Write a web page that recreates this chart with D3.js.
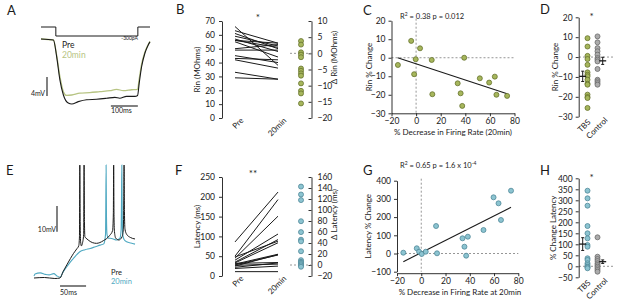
<!DOCTYPE html>
<html>
<head>
<meta charset="utf-8">
<script src="https://cdn.jsdelivr.net/npm/d3@7"></script>
<style>
  body { margin: 0; background: #fff; }
  text { font-family: Lato, "Open Sans", sans-serif; }
</style>
</head>
<body>
<div id="fig"></div>
<script>
// ---------- data ----------

// A: hyperpolarising step, traces as [ms, mV from baseline]
const aStepT = [0, 55, 55, 359, 359, 404];
const aStepI = [0, 0, -300, -300, 0, 0];
const aPre = [[0,0],[46,-0.2],[58,-3.7],[70,-8.6],[83,-11.8],[101,-13.5],[114,-13.7],[138,-13.2],[169,-12.8],[206,-12.7],[243,-12.5],[274,-12.3],[292,-12.5],[317,-12.1],[348,-12.1],[358,-11.9],[364,-9.3],[373,-5.8],[385,-3],[397,-1.3],[404,-0.6]];
const aPost = [[0,0],[46,-0.2],[58,-3.4],[70,-7.9],[83,-11.1],[95,-11.9],[114,-11.8],[144,-11.4],[181,-11.3],[218,-11.1],[256,-10.9],[280,-10.6],[305,-10.9],[336,-10.7],[358,-10.6],[364,-8.4],[373,-5.3],[385,-2.8],[404,-0.5]];

// B: input resistance (MOhms)
const rinPre  = [66, 63, 61, 59, 57, 56, 56, 55, 50, 49, 45, 43, 42, 33, 29];
const rinPost = [38, 54, 50, 52, 48, 54, 51, 44, 53, 49, 40, 42, 36, 28, 28];
const rinDelta = [3.8, 2.7, 0.3, -0.4, -1.2, -4.7, -5.4, -6.2, -6.9, -9.3, -11.6, -12.4, -15.5];

// C: Rin % change vs % decrease in firing rate
const cFiring = [-14.8, -4, 3.2, -0.3, -1.6, 12.7, 13.2, 39.1, 33.8, 36.2, 37.5, 51.8, 59.4, 64, 65.3, 74];
const cRin    = [-3.9, 9.1, 5.1, -0.8, -8.9, -1.2, -19.7, 0, -13.8, -19.2, -26, -11.1, -13.4, -10.2, -20, -20.6];
const cFitX = [-15, 74];
const cFitY = [0, -19.4];

// D: Rin % change, TBS vs control
const groups = ["TBS", "Control"];
const dTBS  = [9.5, 5.3, 0.6, -1.0, -3.9, -7.7, -8.9, -9.7, -11.4, -13.4, -13.9, -18.9, -20.1, -20.6, -25.6];
const dCtrl = [10.4, 7.4, 4.5, 2.9, 1.2, -0.5, -1.3, -2.2, -6.0, -11.4, -12.2, -13.1, -13.9];
const dMean = [-9.7, -1.9];
const dSem  = [2.6, 1.8];

// E: spike traces, [ms, mV from baseline]
const ePre = [[0,0],[20,0.2],[40,-0.2],[50,0],[56,2.5],[63,5.1],[70,7.6],[76,9.6],[82,11.3],[86,12.6],[87.3,16],[88,44],[88.7,22],[89.6,14],[91,12.5],[93,13.5],[95.4,17],[96.2,44],[96.9,22],[97.8,16],[100,15.5],[104,14.8],[112,13.8],[120,13.5],[133,14.5],[145,16.5],[151,18.5],[152.4,25],[153,44],[153.7,24],[154.6,18],[157,15.5],[163,14.8],[169,16],[171.6,19],[172.4,30],[173,44],[173.7,26],[174.8,19],[178,17],[185,15.8],[194,15.2]];
const ePost = [[0,0.8],[2,1.6],[12,2],[22,1.4],[29,1.2],[38,1.7],[44,0.8],[50,0.3],[56,2.4],[63,4.4],[70,6.3],[76,7.7],[88,10.2],[98,11],[108,11.5],[118,12.2],[127,12.8],[134,13.3],[137.4,17],[138.5,44],[139.2,24],[140.2,17],[143,15.5],[149,15.4],[159,14.8],[165,15.5],[167.4,19],[168,28],[168.7,44],[169.4,24],[170.4,17],[173,15],[178,14.1],[186,13.6],[194,13.2]];

// F: first spike latency (ms)
const latPre  = [86, 50, 45, 40, 35, 48, 33, 30, 28, 25, 32, 27, 22, 19, 11];
const latPost = [212, 193, 151, 106, 92, 88, 84, 55, 53, 54, 34, 30, 33, 25, 11];
const latDelta = [142.6, 128.2, 118, 79.6, 59.8, 46, 43, 25, 8.8, 5.8, 4, 1.6, -0.7, -3.2];

// G: latency % change vs % decrease in firing rate
const gFiring  = [-14.8, -3.7, -1.8, 0.4, 3.7, 12.2, 13, 34, 38.4, 35.6, 37, 51.3, 59.6, 63.7, 74, 65.7];
const gLatency = [4.4, 28.6, 9.9, -2.7, 9.9, 151, 1.1, 83.5, 92.3, 37.4, -12, 129, 308.8, 275.8, 345, 184];
const gFitX = [-14.8, 74];
const gFitY = [-45, 254];

// H: % change latency, TBS vs control
const hTBS  = [343.6, 309, 275.5, 183, 150, 127, 96.8, 89, 36.4, 28.6, 13.6, 5.9, -1.5, -4.5, -9];
const hCtrl = [131.8, 43.6, 33, 24, 13.6, 5.9, -1.5, -9, -16.8, -24.5];
const hMean = [101, 21];
const hSem  = [29, 8];

// ---------- styling ----------
const INK = "#1a1a1a";
const GREEN = "#a6b65c", GREEN_DK = "#66722c", GREEN_TXT = "#b7c483";
const BLUE = "#8cc4d1", BLUE_DK = "#4f8898", BLUE_TXT = "#4fa9c2";
const GREY = "#ababab", GREY_DK = "#6b6b6b";
const TICK_FONT = 8.5;

const svg = d3.select("#fig").append("svg")
  .attr("width", 617)
  .attr("height", 304);

function styleAxis(g) {
  g.selectAll("path, line").attr("stroke", INK).attr("stroke-width", 0.9);
  g.selectAll("text").style("font-size", TICK_FONT + "px").attr("fill", INK);
}

function label(x, y, txt, opts = {}) {
  const t = svg.append("text")
    .attr("x", x).attr("y", y)
    .attr("text-anchor", opts.anchor || "start")
    .style("font-size", (opts.size || 8) + "px")
    .attr("fill", opts.color || INK)
    .text(txt);
  if (opts.rotate) t.attr("transform", `rotate(${opts.rotate},${x},${y})`);
  return t;
}

function dashed(x1, y1, x2, y2) {
  svg.append("line")
    .attr("x1", x1).attr("y1", y1).attr("x2", x2).attr("y2", y2)
    .attr("stroke", "#8a8a8a").attr("stroke-width", 0.9)
    .attr("stroke-dasharray", "2,2");
}

function dots(xs, ys, fill, stroke) {
  svg.append("g").selectAll("circle")
    .data(ys)
    .enter()
    .append("circle")
    .attr("cx", (d, i) => (typeof xs === "function" ? xs(d, i) : xs))
    .attr("cy", d => d)
    .attr("r", 2.5)
    .attr("fill", fill)
    .attr("stroke", stroke)
    .attr("stroke-width", 0.8);
}

// panel letters
[["A", 7, 15], ["B", 176, 14], ["C", 363, 15], ["D", 540, 14],
 ["E", 6, 175], ["F", 175, 175], ["G", 363, 175], ["H", 540, 175]]
  .forEach(([l, x, y]) => label(x, y, l, { size: 13 }));

// ---------- A: voltage traces ----------
const aX = d3.scaleLinear().domain([0, 404]).range([41, 150]);
const aY = d3.scaleLinear().domain([-13.7, 0]).range([104, 39]);
const aI = d3.scaleLinear().domain([-300, 0]).range([36, 27]);

svg.append("path")
  .datum(aStepI)
  .attr("d", d3.line().x((d, i) => aX(aStepT[i])).y(d => aI(d)))
  .attr("fill", "none").attr("stroke", INK).attr("stroke-width", 1);

const aLine = d3.line().x(d => aX(d[0])).y(d => aY(d[1])).curve(d3.curveMonotoneX);
svg.append("path").datum(aPost).attr("d", aLine)
  .attr("fill", "none").attr("stroke", GREEN_TXT).attr("stroke-width", 1.3);
svg.append("path").datum(aPre).attr("d", aLine)
  .attr("fill", "none").attr("stroke", INK).attr("stroke-width", 1.1);

label(138, 40, "-300pA", { size: 5, anchor: "end" });
label(62, 48, "Pre", { size: 8.5 });
label(62, 58, "20min", { size: 8.5, color: GREEN_TXT });

// scale bars
svg.append("line").attr("x1", 47).attr("x2", 47).attr("y1", aY(-8)).attr("y2", aY(-12))
  .attr("stroke", INK).attr("stroke-width", 1.1);
label(45, 96, "4mV", { size: 7, anchor: "end" });
svg.append("line").attr("x1", aX(259)).attr("x2", aX(359)).attr("y1", 106).attr("y2", 106)
  .attr("stroke", INK).attr("stroke-width", 1.1);
label(aX(259), 113, "100ms", { size: 7 });

// ---------- E: spike traces ----------
const eX = d3.scaleLinear().domain([0, 194]).range([34, 135]);
const eY = d3.scaleLinear().domain([0, 44]).range([278, 165]);
const eLine = d3.line().x(d => eX(d[0])).y(d => eY(d[1])).curve(d3.curveMonotoneX);

svg.append("path").datum(ePost).attr("d", eLine)
  .attr("fill", "none").attr("stroke", BLUE_TXT).attr("stroke-width", 1.1);
svg.append("path").datum(ePre).attr("d", eLine)
  .attr("fill", "none").attr("stroke", INK).attr("stroke-width", 1);

label(111, 275, "Pre", { size: 7.5 });
label(111, 283.5, "20min", { size: 7.5, color: BLUE_TXT });

svg.append("line").attr("x1", 57).attr("x2", 57).attr("y1", eY(28)).attr("y2", eY(18))
  .attr("stroke", INK).attr("stroke-width", 1.1);
label(56, 232, "10mV", { size: 7, anchor: "end" });
svg.append("line").attr("x1", eX(50)).attr("x2", eX(100)).attr("y1", 286).attr("y2", 286)
  .attr("stroke", INK).attr("stroke-width", 1.1);
label(eX(50), 295, "50ms", { size: 7 });

// ---------- B / F: paired before-after plots ----------
function drawPaired(o) {
  const y = d3.scaleLinear().domain(o.yDomain).range([o.yBottom, o.yTop]);
  const yr = d3.scaleLinear().domain(o.rDomain).range([o.yBottom, o.yTop]);
  const x = d3.scalePoint().domain(["Pre", "20min"]).range([235, 278]);

  svg.append("g")
    .attr("transform", `translate(222,0)`)
    .call(d3.axisLeft(y).tickValues(o.yTicks).tickSize(3).tickSizeOuter(0).tickPadding(4))
    .call(styleAxis);

  svg.append("g")
    .attr("transform", `translate(311.5,0)`)
    .call(d3.axisRight(yr).tickValues(o.rTicks).tickSize(-3).tickSizeOuter(0).tickPadding(6))
    .call(styleAxis);

  svg.append("g").selectAll("line")
    .data(o.pre)
    .enter()
    .append("line")
    .attr("x1", x("Pre"))
    .attr("x2", x("20min"))
    .attr("y1", d => y(d))
    .attr("y2", (d, i) => y(o.post[i]))
    .attr("stroke", INK)
    .attr("stroke-width", 1);

  dashed(290, yr(0), 311, yr(0));
  dots(301, o.delta.map(d => yr(d)), o.fill, o.stroke);

  ["Pre", "20min"].forEach(c =>
    label(x(c) + 9, o.yBottom + 3, c, { anchor: "end", rotate: -45 }));

  label(o.starX, o.yTop, o.star, { size: 10, anchor: "middle" });
  label(200, (o.yTop + o.yBottom) / 2, o.yTitle, { anchor: "middle", rotate: -90 });
  label(337, (o.yTop + o.yBottom) / 2 - 12, o.rTitle, { anchor: "middle", rotate: -90 });
}

drawPaired({
  yDomain: [0, 70], yTicks: d3.range(0, 71, 10), yTop: 21, yBottom: 118,
  rDomain: [-20, 10], rTicks: d3.range(-20, 11, 5),
  pre: rinPre, post: rinPost, delta: rinDelta,
  fill: GREEN, stroke: GREEN_DK,
  star: "*", starX: 258, yTitle: "Rin (MOhms)", rTitle: "\u0394 Rin (MOhms)"
});

drawPaired({
  yDomain: [0, 250], yTicks: d3.range(0, 251, 50), yTop: 177, yBottom: 276,
  rDomain: [-20, 160], rTicks: d3.range(-20, 161, 20),
  pre: latPre, post: latPost, delta: latDelta,
  fill: BLUE, stroke: BLUE_DK,
  star: "**", starX: 253, yTitle: "Latency (ms)", rTitle: "\u0394 Latency (ms)"
});

// ---------- C / G: scatter with regression ----------
function drawScatter(o) {
  const x = d3.scaleLinear().domain([-20, 80]).range([o.xLeft, o.xRight]);
  const y = d3.scaleLinear().domain(o.yDomain).range([o.yBottom, o.yTop]);

  dashed(x(0), o.yTop - 2, x(0), o.yBottom);
  dashed(o.xLeft, y(0), x(80), y(0));

  svg.append("g")
    .attr("transform", `translate(${o.xLeft},0)`)
    .call(d3.axisLeft(y).tickValues(o.yTicks).tickSize(3).tickSizeOuter(0).tickPadding(3))
    .call(styleAxis);

  svg.append("g")
    .attr("transform", `translate(0,${o.yBottom + o.xAxisGap})`)
    .call(d3.axisBottom(x).tickValues(d3.range(-20, 81, 20)).tickSize(3).tickSizeOuter(0).tickPadding(2))
    .call(styleAxis);

  svg.append("line")
    .attr("x1", x(o.fitX[0])).attr("y1", y(o.fitY[0]))
    .attr("x2", x(o.fitX[1])).attr("y2", y(o.fitY[1]))
    .attr("stroke", INK).attr("stroke-width", 1.1);

  dots((d, i) => x(o.xs[i]), o.ys.map(d => y(d)), o.fill, o.stroke);

  label(o.titleX, (o.yTop + o.yBottom) / 2, o.yTitle, { anchor: "middle", rotate: -90 });
  label(o.xTitleX, o.yBottom + o.xAxisGap + 22, o.xTitle, { anchor: "middle" });
}

drawScatter({
  xLeft: 391.5, xRight: 514.5,
  yDomain: [-30, 20], yTicks: d3.range(-30, 21, 10), yTop: 20.7, yBottom: 113.3, xAxisGap: 0,
  fitX: cFitX, fitY: cFitY, xs: cFiring, ys: cRin,
  fill: GREEN, stroke: GREEN_DK,
  titleX: 372, yTitle: "Rin % Change",
  xTitleX: 453, xTitle: "% Decrease in Firing Rate (20min)"
});

drawScatter({
  xLeft: 397, xRight: 518.3,
  yDomain: [-100, 400], yTicks: d3.range(-100, 401, 100), yTop: 180.7, yBottom: 271.7, xAxisGap: 1.5,
  fitX: gFitX, fitY: gFitY, xs: gFiring, ys: gLatency,
  fill: BLUE, stroke: BLUE_DK,
  titleX: 371, yTitle: "Latency % Change",
  xTitleX: 460, xTitle: "% Decrease in Firing Rate at 20min"
});

// regression stats
const cStat = svg.append("text").attr("x", 400).attr("y", 19).style("font-size", "7.5px").attr("fill", INK);
cStat.append("tspan").text("R");
cStat.append("tspan").attr("dy", -3).style("font-size", "5px").text("2");
cStat.append("tspan").attr("dy", 3).text(" = 0.38  p = 0.012");

const gStat = svg.append("text").attr("x", 400).attr("y", 168).style("font-size", "7.5px").attr("fill", INK);
gStat.append("tspan").text("R");
gStat.append("tspan").attr("dy", -3).style("font-size", "5px").text("2");
gStat.append("tspan").attr("dy", 3).text(" = 0.65  p = 1.6 x 10");
gStat.append("tspan").attr("dy", -3).style("font-size", "5px").text("-4");

// ---------- D / H: group comparison ----------
function drawGroups(o) {
  const y = d3.scaleLinear().domain(o.yDomain).range([o.yBottom, o.yTop]);
  const x = d3.scalePoint().domain(groups).range([587.5, 597.5]);
  const xm = d3.scalePoint().domain(groups).range([582.7, 602.7]);

  dashed(579, y(0), 615, y(0));

  svg.append("g")
    .attr("transform", `translate(578.7,0)`)
    .call(d3.axisLeft(y).tickValues(o.yTicks).tickSize(3).tickSizeOuter(0).tickPadding(3))
    .call(styleAxis);

  dots(x("Control"), o.ctrl.map(d => y(d)), GREY, GREY_DK);
  dots(x("TBS"), o.tbs.map(d => y(d)), o.fill, o.stroke);

  groups.forEach((g, i) => {
    const cx = xm(g), m = o.mean[i], s = o.sem[i];
    const eb = svg.append("g").attr("stroke", INK).attr("stroke-width", 1);
    eb.append("line").attr("x1", cx).attr("x2", cx).attr("y1", y(m - s)).attr("y2", y(m + s));
    eb.append("line").attr("x1", cx - 1.5).attr("x2", cx + 1.5).attr("y1", y(m - s)).attr("y2", y(m - s));
    eb.append("line").attr("x1", cx - 1.5).attr("x2", cx + 1.5).attr("y1", y(m + s)).attr("y2", y(m + s));
    eb.append("line").attr("x1", cx - 3.5).attr("x2", cx + 3.5).attr("y1", y(m)).attr("y2", y(m))
      .attr("stroke-width", 1.3);
  });

  label(591, o.yBottom + 6, "TBS", { anchor: "end", rotate: -45 });
  label(608, o.yBottom + 4, "Control", { anchor: "end", rotate: -45 });
  label(591.7, o.yTop + 3, "*", { size: 10, anchor: "middle" });
  label(o.titleX, (o.yTop + o.yBottom) / 2, o.yTitle, { anchor: "middle", rotate: -90 });
}

drawGroups({
  yDomain: [-30, 20], yTicks: d3.range(-30, 21, 10), yTop: 17.3, yBottom: 116.7,
  tbs: dTBS, ctrl: dCtrl, mean: dMean, sem: dSem,
  fill: GREEN, stroke: GREEN_DK, titleX: 558, yTitle: "Rin % Change"
});

drawGroups({
  yDomain: [-50, 400], yTicks: d3.range(-50, 401, 50), yTop: 178.3, yBottom: 277.3,
  tbs: hTBS, ctrl: hCtrl, mean: hMean, sem: hSem,
  fill: BLUE, stroke: BLUE_DK, titleX: 556, yTitle: "% Change Latency"
});
</script>
</body>
</html>
